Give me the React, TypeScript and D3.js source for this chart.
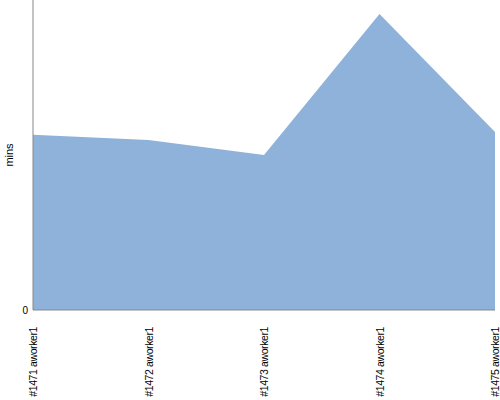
import { useMemo } from "react";
import * as d3 from "d3";

const builds = ["#1471 aworker1", "#1472 aworker1", "#1473 aworker1", "#1474 aworker1", "#1475 aworker1"];
const minutes = [56.5, 54.8, 50.0, 95.5, 57.4];
const yTicks = [0];

const width = 500;
const height = 400;
const margin = { top: 0, right: 5, bottom: 90, left: 33 };

export default function App() {
  const boundsWidth = width - margin.left - margin.right;
  const boundsHeight = height - margin.top - margin.bottom;

  const xScale = useMemo(
    () => d3.scalePoint().domain(builds).range([0, boundsWidth]),
    [boundsWidth]
  );
  const yScale = useMemo(
    () => d3.scaleLinear().domain([0, 100]).range([boundsHeight, 0]),
    [boundsHeight]
  );

  const area = d3
    .area<number>()
    .x((_, i) => xScale(builds[i]) ?? 0)
    .y0(yScale(0))
    .y1((d) => yScale(d));

  return (
    <svg
      width={width}
      height={height}
      style={{ position: "absolute", left: 0, top: 0 }}
      fontFamily="Liberation Sans, Arial, sans-serif"
    >
      <g transform={`translate(${margin.left},${margin.top})`}>
        <path d={area(minutes) ?? ""} fill="#8fb2da" />
        <line x1={0} x2={0} y1={0} y2={boundsHeight} stroke="#888" />
        <line x1={0} x2={boundsWidth} y1={boundsHeight} y2={boundsHeight} stroke="#888" />
        {yTicks.map((t) => (
          <text key={t} x={-5} y={yScale(t)} dy="0.35em" textAnchor="end" fontSize={10}>
            {t}
          </text>
        ))}
        {builds.map((b) => (
          <text
            key={b}
            transform={`translate(${(xScale(b) ?? 0) + 4},${boundsHeight + 17}) rotate(-90)`}
            textAnchor="end"
            fontSize={10.5}
            letterSpacing={-0.4}
          >
            {b}
          </text>
        ))}
        <text
          transform={`translate(${-20},${boundsHeight / 2}) rotate(-90)`}
          textAnchor="middle"
          fontSize={11}
        >
          mins
        </text>
      </g>
    </svg>
  );
}
